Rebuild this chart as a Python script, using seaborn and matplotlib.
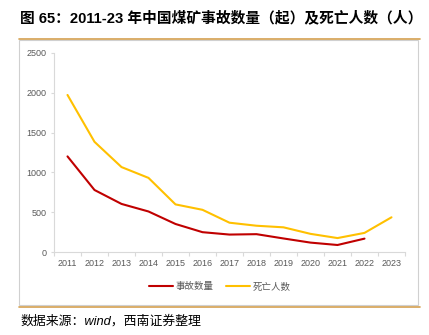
import matplotlib
matplotlib.use("Agg")
import matplotlib.pyplot as plt
import seaborn as sns
import pandas as pd
from matplotlib.patches import Rectangle
from matplotlib.lines import Line2D

years = list(range(2011, 2024))
accidents_years = list(range(2011, 2023))
accidents = [1201, 779, 604, 509, 352, 249, 219, 224, 170, 118, 88, 168]
deaths = [1973, 1384, 1067, 931, 598, 530, 368, 330, 310, 228, 175, 240, 436]
tick_labels = [str(y) for y in years]
yticks = [0, 500, 1000, 1500, 2000, 2500]
title = "图 65：2011-23 年中国煤矿事故数量（起）及死亡人数（人）"
source = "数据来源：wind，西南证券整理"
legend_labels = ["事故数量", "死亡人数"]

sns.set_theme(style="white")
plt.rcParams['font.family'] = ['Liberation Sans', 'Noto Sans CJK SC', 'DejaVu Sans']

W, H = 429, 335
fig = plt.figure(figsize=(W / 100, H / 100), dpi=100)
ax = fig.add_axes([54 / W, 1 - 252 / H, (405 - 54) / W, (252 - 53) / H])

df_a = pd.DataFrame({"year": accidents_years, "value": accidents})
df_d = pd.DataFrame({"year": years, "value": deaths})
red = "#C00000"
gold = "#FFC000"
sns.lineplot(data=df_a, x="year", y="value", ax=ax, color=red, linewidth=1.5, label=legend_labels[0])
sns.lineplot(data=df_d, x="year", y="value", ax=ax, color=gold, linewidth=1.5, label=legend_labels[1])

ax.set_xlim(2010.5, 2023.5)
ax.set_ylim(0, 2500)
ax.set_xticks(years)
ax.set_xticklabels(tick_labels)
ax.set_xticks([y - 0.5 for y in years] + [2023.5], minor=True)
ax.set_yticks(yticks)
ax.set_yticklabels([str(v) for v in yticks])
ax.set_xlabel("")
ax.set_ylabel("")
gray_txt = "#595959"
axis_col = "#D9D9D9"
ax.tick_params(axis="x", which="major", length=0, labelsize=6.5, labelcolor=gray_txt, pad=5)
ax.tick_params(axis="x", which="minor", length=3.0, color=axis_col, width=0.8, direction="out", bottom=True)
ax.tick_params(axis="y", which="major", length=2.0, color=axis_col, width=0.8, labelsize=6.5, labelcolor=gray_txt, pad=3.5, left=True)
for s in ["top", "right"]:
    ax.spines[s].set_visible(False)
for s in ["left", "bottom"]:
    ax.spines[s].set_color(axis_col)
    ax.spines[s].set_linewidth(0.8)
ax.grid(False)

handles = [Line2D([], [], color=red, linewidth=1.5), Line2D([], [], color=gold, linewidth=1.5)]
ax.legend(handles, legend_labels, loc="center", bbox_to_anchor=(220 / W, 1 - 287 / H),
          bbox_transform=fig.transFigure, ncol=2, frameon=False,
          prop={"family": ["Noto Sans CJK SC"], "size": 6.8}, labelcolor=gray_txt,
          handlelength=2.5, columnspacing=1.3, handletextpad=0.3)

# chart frame
fig.patches.append(Rectangle((19 / W, 1 - 305 / H), (418 - 19) / W, (305 - 40) / H,
                             transform=fig.transFigure, fill=False, edgecolor="#D0D0D0", linewidth=0.8))
# title rules
fig.add_artist(Line2D([19 / W, 420 / W], [1 - 38.5 / H] * 2, transform=fig.transFigure, color="#D4A050", linewidth=1.2))
fig.add_artist(Line2D([19 / W, 420 / W], [1 - 306.5 / H] * 2, transform=fig.transFigure, color="#D4A050", linewidth=1.2))

fig.text(20 / W, 1 - 18 / H, title, ha="left", va="center", fontsize=10.6, fontweight="bold",
         family=["Liberation Sans", "Noto Sans CJK SC"], color="#000000")
fig.text(20 / W, 1 - 321 / H, source, ha="left", va="center", fontsize=9.3, style="italic",
         family=["Liberation Sans", "Noto Sans CJK SC"], color="#000000")

fig.savefig("out.png", dpi=100)
